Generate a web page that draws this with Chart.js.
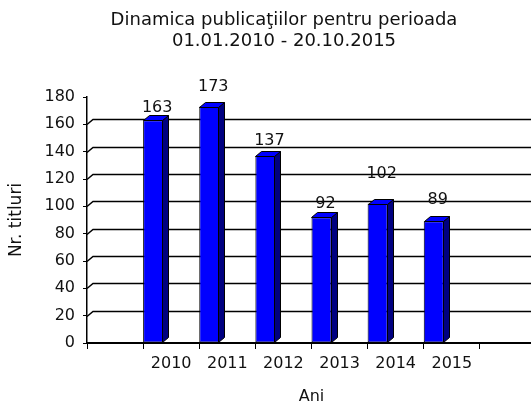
<!DOCTYPE html>
<html>
<head>
<meta charset="utf-8">
<script src="https://cdn.jsdelivr.net/npm/chart.js@4.4.0/dist/chart.umd.min.js"></script>
<style>
  html, body { margin: 0; padding: 0; background: #fff; overflow: hidden; }
  #wrap { width: 536px; height: 405px; }
</style>
</head>
<body>
<div id="wrap"><canvas id="chart" width="536" height="405"></canvas></div>
<script>
// values
const years = ['2010', '2011', '2012', '2013', '2014', '2015'];
const titlesPerYear = [163, 173, 137, 92, 102, 89];
const yTicks = [0, 20, 40, 60, 80, 100, 120, 140, 160, 180];
const titleLines = ['Dinamica publicaţiilor pentru perioada', '01.01.2010 - 20.10.2015'];

// empty slot before and after the years, like the original plot
const slotLabels = ['', ...years, ''];
const slotValues = [null, ...titlesPerYear, null];

Chart.defaults.font.family = 'DejaVu Sans';
Chart.defaults.color = '#111';

const depth = { dx: 6, dy: 5 };

function poly(ctx, pts) {
    ctx.beginPath();
    ctx.moveTo(pts[0][0], pts[0][1]);
    for (let i = 1; i < pts.length; i++) ctx.lineTo(pts[i][0], pts[i][1]);
    ctx.closePath();
    ctx.fill();
    ctx.stroke();
}

// gridlines on the back wall, shifted by the 3d depth
const wallGrid = {
    id: 'wallGrid',
    beforeDatasetsDraw(chart) {
        const { ctx, chartArea: a, scales: { y } } = chart;
        ctx.save();
        ctx.strokeStyle = '#000';
        ctx.lineWidth = 1.5;
        y.ticks.forEach(t => {
            if (t.value <= y.min || t.value >= y.max) return;
            const py = Math.round(y.getPixelForValue(t.value)) + 0.5;
            ctx.beginPath();
            ctx.moveTo(a.left, py);
            ctx.lineTo(a.left + depth.dx, py - depth.dy);
            ctx.lineTo(a.right, py - depth.dy);
            ctx.stroke();
        });
        ctx.restore();
    }
};

// side + top faces of the bars, then the value labels
const bars3d = {
    id: 'bars3d',
    afterDatasetsDraw(chart, args, opts) {
        const { ctx } = chart;
        const meta = chart.getDatasetMeta(0);
        const values = chart.data.datasets[0].data;
        const { dx, dy } = depth;
        ctx.save();
        ctx.lineWidth = 1;
        ctx.strokeStyle = '#000';
        let k = 0;
        meta.data.forEach((bar, i) => {
            if (values[i] == null) return;
            const p = bar.getProps(['x', 'y', 'width', 'base'], true);
            const l = Math.round(p.x - p.width / 2) + 0.5;
            const r = Math.round(p.x + p.width / 2) - 0.5;
            const top = Math.round(p.y) + 0.5;
            const base = Math.round(p.base) - 0.5;
            ctx.fillStyle = opts.side;
            poly(ctx, [[r, top], [r + dx, top - dy], [r + dx, base - dy], [r, base]]);
            ctx.fillStyle = opts.top;
            poly(ctx, [[l, top], [l + dx, top - dy], [r + dx, top - dy], [r, top]]);

            ctx.fillStyle = '#111';
            ctx.font = '16px "DejaVu Sans"';
            ctx.textAlign = 'center';
            ctx.textBaseline = 'middle';
            ctx.fillText(String(values[i]), p.x + dx / 2 + 1, p.y - opts.lift[k]);
            k++;
        });
        ctx.restore();
    }
};

// move the title a bit to the right, as in the original
const titleShift = {
    id: 'titleShift',
    afterLayout(chart, args, opts) {
        const t = chart.titleBlock;
        if (!t) return;
        t.left += opts.dx;
        t.right += opts.dx;
    }
};

new Chart(document.getElementById('chart'), {
    type: 'bar',
    data: {
        labels: slotLabels,
        datasets: [{
            data: slotValues,
            backgroundColor: '#0000ff',
            borderColor: '#000',
            borderWidth: 1,
            borderSkipped: false,
            categoryPercentage: 1.2857,
            barPercentage: 0.556
        }, {
            // empty spacer so the bars sit on the left of each slot
            data: [],
            categoryPercentage: 1.2857,
            barPercentage: 0.556
        }]
    },
    options: {
        responsive: false,
        animation: false,
        events: [],
        layout: { padding: 0 },
        scales: {
            x: {
                offset: true,
                grid: { drawOnChartArea: false, drawTicks: true, tickLength: 6, tickColor: '#000', offset: true },
                border: { color: '#000', width: 2 },
                ticks: { font: { size: 16 }, padding: 5, maxRotation: 0, autoSkip: false },
                title: { display: true, text: 'Ani', font: { size: 16, lineHeight: 1 }, padding: { top: 0, bottom: 0 } },
                afterFit: s => { s.height = 62; }
            },
            y: {
                min: yTicks[0],
                max: yTicks[yTicks.length - 1],
                ticks: { stepSize: yTicks[1] - yTicks[0], font: { size: 16 }, padding: 8 },
                grid: { drawOnChartArea: false, drawTicks: true, tickLength: 4, tickColor: '#000' },
                border: { color: '#000', width: 1.5 },
                title: { display: true, text: 'Nr. titluri', font: { size: 17, lineHeight: 1 }, padding: { top: 8, bottom: 0 } },
                afterFit: s => { s.width = 87; }
            }
        },
        plugins: {
            legend: { display: false },
            tooltip: { enabled: false },
            title: {
                display: true,
                text: titleLines,
                font: { size: 18, weight: 'normal', lineHeight: 21 / 18 },
                padding: { top: 10, bottom: 45 }
            },
            titleShift: { dx: 16 },
            bars3d: { side: '#000080', top: '#0000ff', lift: [12, 20, 15, 13, 30, 22] }
        }
    },
    plugins: [wallGrid, bars3d, titleShift]
});
</script>
</body>
</html>
